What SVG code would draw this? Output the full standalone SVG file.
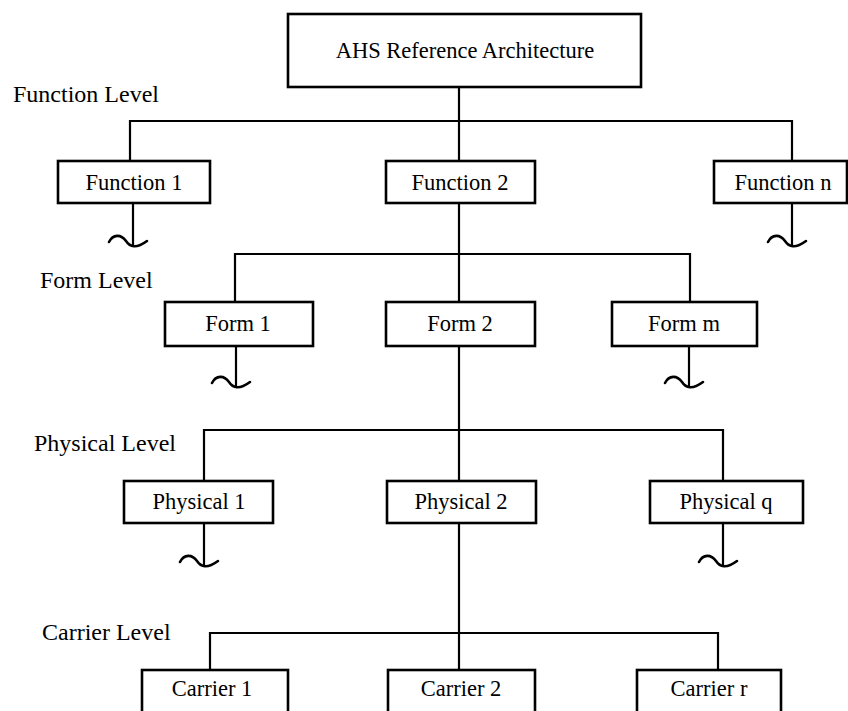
<svg xmlns="http://www.w3.org/2000/svg" width="848" height="711" viewBox="0 0 848 711">
  <style>
    .box { fill: #ffffff; stroke: #000000; stroke-width: 2.6; }
    .wire { fill: none; stroke: #000000; stroke-width: 2.2; }
    .tilde { fill: none; stroke: #000000; stroke-width: 2.6; stroke-linecap: round; }
    text { font-family: "Liberation Serif", "Times New Roman", serif; font-size: 22.5px; fill: #000000; }
    .lbl { text-anchor: middle; }
    .level { font-size: 24px; }
  </style>
  <defs>
    <!-- break mark at the end of an unexpanded branch; origin = foot of the drop line -->
    <path id="brk" class="tilde" d="M-24,-5 C-20,-13 -12,-13 -7,-6 C-3,0 3,2 14,-6"/>
  </defs>

  <!-- level captions -->
  <text class="level" x="13" y="102">Function Level</text>
  <text class="level" x="40" y="288">Form Level</text>
  <text class="level" x="34" y="451">Physical Level</text>
  <text class="level" x="42" y="640">Carrier Level</text>

  <g id="connectors">
    <!-- root to function bus -->
    <path class="wire" d="M459,87 V161"/>
    <path class="wire" d="M130,121 H792"/>
    <path class="wire" d="M130,120 V161 M792,120 V161"/>
    <!-- function 2 to form bus -->
    <path class="wire" d="M459,203 V302"/>
    <path class="wire" d="M235,254 H690"/>
    <path class="wire" d="M235,253 V302 M690,253 V302"/>
    <!-- form 2 to physical bus -->
    <path class="wire" d="M459,346 V481"/>
    <path class="wire" d="M204,430 H723"/>
    <path class="wire" d="M204,429 V481 M723,429 V481"/>
    <!-- physical 2 to carrier bus -->
    <path class="wire" d="M459,523 V670"/>
    <path class="wire" d="M210,633 H718"/>
    <path class="wire" d="M210,632 V670 M718,632 V670"/>
    <!-- unexpanded branches -->
    <path class="wire" d="M133,203 V246 M792,203 V246"/>
    <path class="wire" d="M236,346 V387 M689,346 V387"/>
    <path class="wire" d="M204,523 V566 M723,523 V566"/>
    <use href="#brk" x="133" y="247"/>
    <use href="#brk" x="792" y="247"/>
    <use href="#brk" x="236" y="388"/>
    <use href="#brk" x="689" y="388"/>
    <use href="#brk" x="204" y="567"/>
    <use href="#brk" x="723" y="567"/>
  </g>

  <g id="root">
    <rect class="box" x="288" y="14" width="353" height="73"/>
    <text class="lbl" x="465" y="58">AHS Reference Architecture</text>
  </g>

  <g id="function-1">
    <rect class="box" x="58" y="161" width="152" height="42"/>
    <text class="lbl" x="134" y="190">Function 1</text>
  </g>
  <g id="function-2">
    <rect class="box" x="386" y="161" width="149" height="42"/>
    <text class="lbl" x="460" y="190">Function 2</text>
  </g>
  <g id="function-n">
    <rect class="box" x="714" y="161" width="133" height="42"/>
    <text class="lbl" x="783" y="190">Function n</text>
  </g>

  <g id="form-1">
    <rect class="box" x="165" y="302" width="148" height="44"/>
    <text class="lbl" x="238" y="331">Form 1</text>
  </g>
  <g id="form-2">
    <rect class="box" x="386" y="302" width="149" height="44"/>
    <text class="lbl" x="460" y="331">Form 2</text>
  </g>
  <g id="form-m">
    <rect class="box" x="612" y="302" width="145" height="44"/>
    <text class="lbl" x="684" y="331">Form m</text>
  </g>

  <g id="physical-1">
    <rect class="box" x="124" y="481" width="149" height="42"/>
    <text class="lbl" x="199" y="509">Physical 1</text>
  </g>
  <g id="physical-2">
    <rect class="box" x="387" y="481" width="149" height="42"/>
    <text class="lbl" x="461" y="509">Physical 2</text>
  </g>
  <g id="physical-q">
    <rect class="box" x="650" y="481" width="153" height="42"/>
    <text class="lbl" x="726" y="509">Physical q</text>
  </g>

  <!-- bottom row runs off the lower edge of the sheet -->
  <g id="carrier-1">
    <rect class="box" x="142" y="670" width="146" height="60"/>
    <text class="lbl" x="212" y="696">Carrier 1</text>
  </g>
  <g id="carrier-2">
    <rect class="box" x="388" y="670" width="147" height="60"/>
    <text class="lbl" x="461" y="696">Carrier 2</text>
  </g>
  <g id="carrier-r">
    <rect class="box" x="637" y="670" width="144" height="60"/>
    <text class="lbl" x="709" y="696">Carrier r</text>
  </g>
</svg>
